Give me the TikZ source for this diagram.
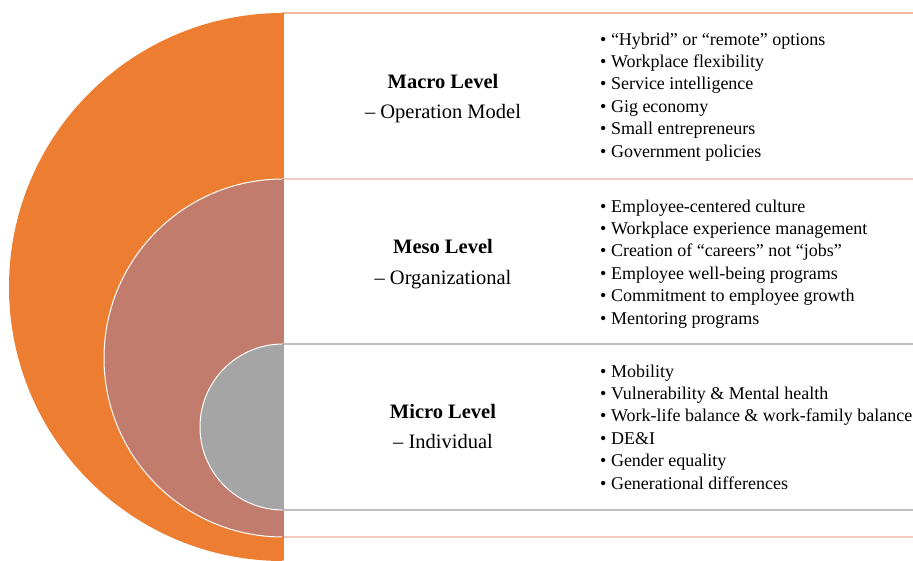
\documentclass[tikz,border=0pt]{standalone}
\usepackage{fontspec}
\setmainfont{Liberation Serif}
\definecolor{macroC}{HTML}{ED7D31}
\definecolor{mesoC}{HTML}{C27C6E}
\definecolor{microC}{HTML}{A5A5A5}
\definecolor{macroL}{HTML}{F4B89A}
\definecolor{mesoL}{HTML}{EFC9C2}
\definecolor{microL}{HTML}{BFBFBF}
\tikzset{
  panel/.style={fill=white, line width=1.4pt},
  disc/.style={draw=white, line width=1pt},
  title/.style={anchor=base, inner sep=0pt, font=\fontsize{20.5}{24}\selectfont\bfseries},
  subtitle/.style={anchor=base, inner sep=0pt, font=\fontsize{20.5}{24}\selectfont},
  item/.style={anchor=base west, inner sep=0pt, font=\fontsize{18}{22}\selectfont}
}
\begin{document}
\begin{tikzpicture}[x=1pt,y=-1pt]
\useasboundingbox (0,0) rectangle (913,560);
\clip (0,0) rectangle (913,560);
% macro level
\fill[macroC] (283,287) circle[radius=274];
\draw[panel, draw=macroL] (283,13) rectangle (930,575);
\draw[macroC, line width=1.4pt] (283,13) -- (283,179);
% meso level
\filldraw[disc, fill=mesoC] (283,358) circle[radius=179];
\draw[panel, draw=mesoL] (283,179) rectangle (930,537);
\draw[mesoC, line width=1.4pt] (283,179) -- (283,344);
\draw[mesoC, line width=1.4pt] (283,510) -- (283,537);
% micro level
\filldraw[disc, fill=microC] (283,427) circle[radius=83];
\draw[panel, draw=microL] (283,344) rectangle (930,510);
\draw[microC, line width=1.4pt] (283,344) -- (283,510);
\draw[macroC, line width=1.4pt] (283,537) -- (283,560);

% titles
\node[title] (macroT) at (443,88) {Macro Level};
\node[subtitle] (macroS) at (443,118) {– Operation Model};
\node[title] (mesoT) at (443,253) {Meso Level};
\node[subtitle] (mesoS) at (443,284) {– Organizational};
\node[title] (microT) at (443,418) {Micro Level};
\node[subtitle] (microS) at (443,448) {– Individual};

% bullet lists
\foreach [count=\i] \t in {“Hybrid” or “remote” options, Workplace flexibility, Service intelligence, Gig economy, Small entrepreneurs, Government policies}
  \node[item] (macro\i) at (600,{45+22.4*(\i-1)}) {• \t};
\foreach [count=\i] \t in {Employee-centered culture, Workplace experience management, Creation of “careers” not “jobs”, Employee well-being programs, Commitment to employee growth, Mentoring programs}
  \node[item] (meso\i) at (600,{212+22.4*(\i-1)}) {• \t};
\foreach [count=\i] \t in {Mobility, Vulnerability \& Mental health, Work-life balance \& work-family balance, DE\&I, Gender equality, Generational differences}
  \node[item] (micro\i) at (600,{377+22.4*(\i-1)}) {• \t};
\end{tikzpicture}
\end{document}
